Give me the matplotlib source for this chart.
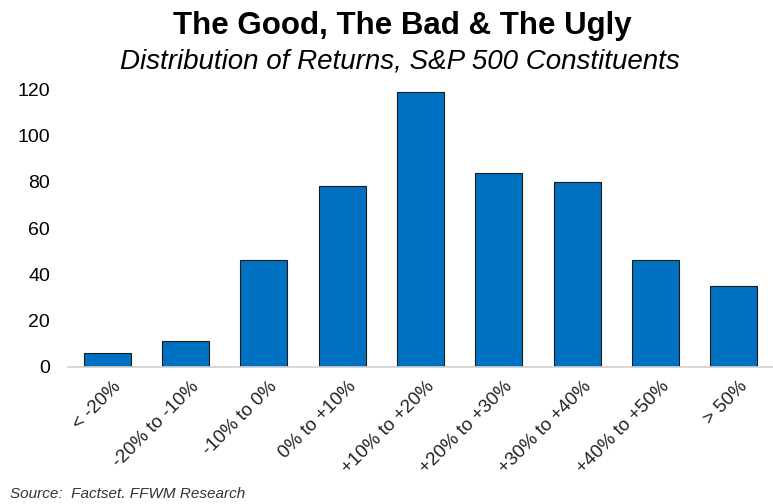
import numpy as np
import matplotlib.pyplot as plt
from matplotlib.transforms import ScaledTranslation

plt.rcParams['font.family'] = ['Liberation Sans', 'DejaVu Sans']

categories = ['< -20%', '-20% to -10%', '-10% to 0%', '0% to +10%', '+10% to +20%',
              '+20% to +30%', '+30% to +40%', '+40% to +50%', '> 50%']
counts = [6, 11, 46, 78, 119, 84, 80, 46, 35]
yticks = [0, 20, 40, 60, 80, 100, 120]

fig = plt.figure(figsize=(7.73, 5.04), dpi=100)
ax = fig.add_axes([0.088, 0.272, 0.912, 0.551])

x = np.arange(len(categories))
ax.bar(x, counts, width=0.6, color='#0070C0', edgecolor='#1a1a1a', linewidth=0.8)

ax.set_xlim(-0.5, len(categories) - 0.5)
ax.set_ylim(0, 120)
ax.set_yticks(yticks)
ax.set_xticks(x)
ax.set_xticklabels(categories, rotation=45, ha='right', rotation_mode='anchor', fontsize=13.5, color='#222222')
ax.tick_params(axis='y', labelsize=14, length=0, pad=13)
ax.tick_params(axis='x', length=0, pad=8)

# nudge the slanted labels a little to the right
shift = ScaledTranslation(5 / 100, 0, fig.dpi_scale_trans)
for lab in ax.get_xticklabels():
    lab.set_transform(lab.get_transform() + shift)

for s in ['top', 'right', 'left']:
    ax.spines[s].set_visible(False)
ax.spines['bottom'].set_color('#d0d0d0')
ax.spines['bottom'].set_linewidth(1.2)

fig.text(0.520, 0.948, 'The Good, The Bad & The Ugly', ha='center', va='center',
         fontsize=22.5, fontweight='bold')
fig.text(0.517, 0.878, 'Distribution of Returns, S&P 500 Constituents', ha='center', va='center',
         fontsize=20, style='italic')
fig.text(0.013, 0.020, 'Source:  Factset. FFWM Research', ha='left', va='center',
         fontsize=11, style='italic', color='#333333')

fig.savefig('out.png', dpi=100)
